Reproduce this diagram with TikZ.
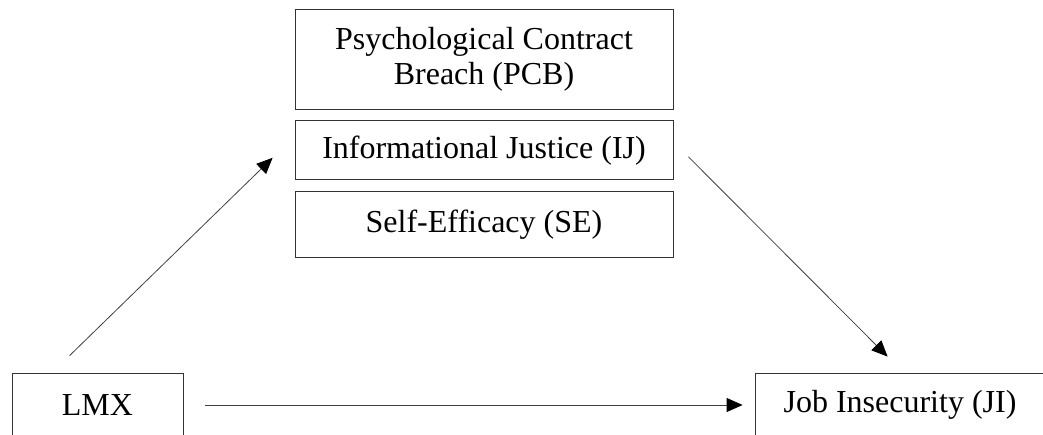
\documentclass[tikz,border=0pt]{standalone}
\usepackage{fontspec}
\setmainfont{Liberation Serif}
\usetikzlibrary{positioning}
\usetikzlibrary{arrows.meta,calc}

\begin{document}
\begin{tikzpicture}[x=0.75pt,y=-0.75pt,
  varbox/.style={rectangle,draw=black!80,line width=0.6pt,inner sep=0pt,align=center,font=\fontsize{24}{26}\selectfont},
  linkarrow/.style={draw=black!75,line width=0.6pt,-{Triangle[length=12pt,width=10.5pt,black]}}]

\useasboundingbox (0,0) rectangle (1043,435);
\clip (0,0) rectangle (1043,435);

% Mediators

\node[varbox, minimum width=283.5pt, minimum height=75pt] (PCB) at (484,59) {Psychological Contract\\Breach (PCB)};

\node[below=8.25pt of PCB, varbox, minimum width=283.5pt, minimum height=44.25pt] (IJ) {Informational Justice (IJ)};

\node[below=8.25pt of IJ, varbox, minimum width=283.5pt, minimum height=49.5pt] (SE) {Self-Efficacy (SE)};


% Predictor and outcome

\node[varbox, minimum width=128.25pt, minimum height=48pt] (LMX) at (97.5,405) {LMX};

\node[varbox, minimum width=217.5pt, minimum height=48pt] (JI) at (900,405) {Job Insecurity (JI)};


% Paths

\coordinate (lmxup) at ($(LMX.north west)+(58,-17)$);
\coordinate (ijin) at ($(IJ.west)+(-22,7.5)$);
\draw[linkarrow] (lmxup) -- (ijin);

\coordinate (ijout) at ($(IJ.east)+(15,6.5)$);
\coordinate (jiin) at ($(JI.north west)+(133,-16)$);
\draw[linkarrow] (ijout) -- (jiin);

\draw[linkarrow, shorten <=16.5pt, shorten >=9pt] (LMX) -- (JI);

\end{tikzpicture}
\end{document}
